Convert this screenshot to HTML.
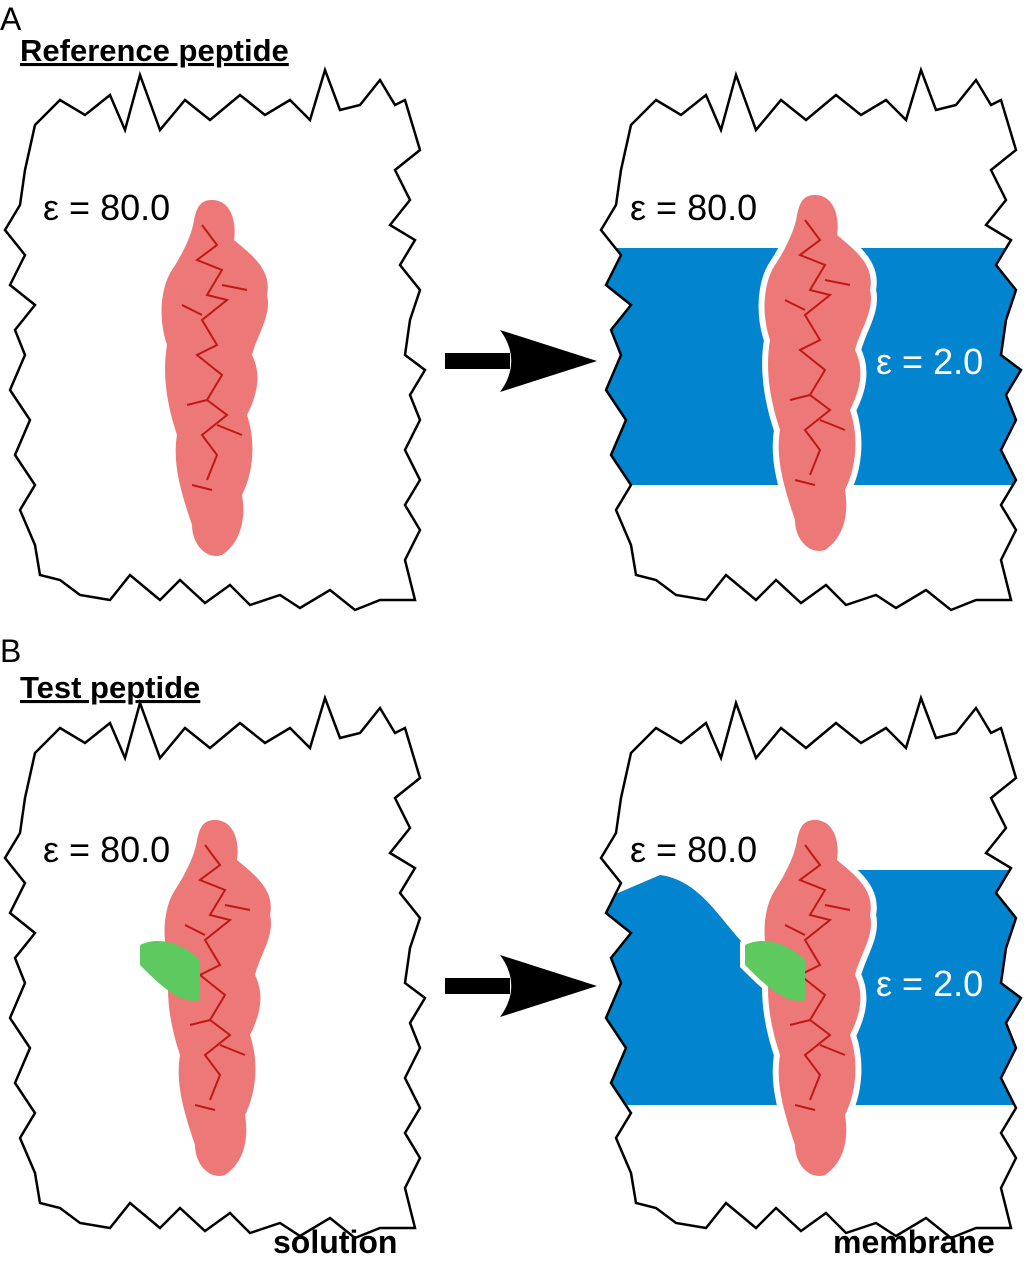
<!DOCTYPE html>
<html><head><meta charset="utf-8"><style>
html,body{margin:0;padding:0;background:#fff;}
svg{display:block;font-family:"Liberation Sans",sans-serif;}
</style></head><body>
<svg width="1031" height="1280" viewBox="0 0 1031 1280">
<defs>
<path id="box" d="M35,125 L60,100 L85,115 L110,95 L125,130 L140,75 L160,130 L185,100 L210,120 L240,95 L265,115 L290,100 L310,120 L325,70 L340,110 L360,105 L380,80 L395,105 L405,100 L420,150 L395,170 L410,200 L390,225 L415,240 L400,265 L420,290 L410,320 L405,355 L425,370 L410,395 L420,420 L405,450 L420,480 L405,505 L420,530 L405,560 L415,600 L380,600 L355,610 L330,590 L300,608 L280,595 L250,605 L230,585 L205,603 L180,580 L160,600 L130,575 L110,600 L80,595 L60,580 L40,575 L35,545 L20,510 L35,485 L15,455 L30,420 L10,390 L25,355 L15,330 L35,305 L10,285 L25,255 L5,230 L20,205 L25,170 Z"/>
<path id="pep" d="M0,-165 C18,-165 25,-145 22,-125 C40,-110 60,-95 55,-70 C60,-50 45,-30 40,-10 C50,10 45,30 35,50 C45,80 40,110 30,130 C35,160 25,180 10,190 C-5,195 -20,180 -20,160 C-30,130 -40,100 -35,70 C-45,40 -50,10 -45,-20 C-55,-50 -50,-80 -40,-95 C-30,-110 -20,-130 -18,-145 C-15,-160 -10,-165 0,-165 Z"/>
<clipPath id="clipR1"><use href="#box" transform="translate(596,0)"/></clipPath>
<clipPath id="clipR2"><use href="#box" transform="translate(596,628)"/></clipPath>
<g id="pepg">
<use href="#pep" fill="#e9605f" fill-opacity="0.85"/>
<path d="M-10,-140 l15,20 l-20,15 l25,10 l-15,25 l20,5 l-25,20 l15,25 l-20,10 l25,20 l-15,25 l20,15 l-25,20 l15,20 l-10,25 M-30,-60 l20,10 M10,-80 l25,5 M-25,40 l20,-5 M5,60 l25,10 M-20,120 l20,5" stroke="#c01818" stroke-width="2" fill="none"/>
</g>
</defs>

<text x="0" y="30" font-size="32">A</text>
<text x="20" y="61" font-size="31" font-weight="bold" text-decoration="underline">Reference peptide</text>

<use href="#box" fill="none" stroke="#000" stroke-width="2.5"/>
<use href="#pepg" transform="translate(212,365)"/>
<text x="43" y="220" font-size="36">ε = 80.0</text>

<g clip-path="url(#clipR1)">
<rect x="590" y="248" width="450" height="237" fill="#0284cf"/>
</g>
<use href="#box" transform="translate(596,0)" fill="none" stroke="#000" stroke-width="2.5"/>
<use href="#pep" transform="translate(815,360)" fill="#fff" stroke="#fff" stroke-width="12"/>
<use href="#pepg" transform="translate(815,360)"/>
<text x="630" y="220" font-size="36">ε = 80.0</text>
<text x="876" y="374" font-size="36" fill="#fff">ε = 2.0</text>

<g>
<rect x="445" y="353" width="65" height="16" fill="#000"/>
<path d="M500,330 L597,361 L500,392 C515,372 515,350 500,330 Z" fill="#000"/>
</g>

<text x="0" y="662" font-size="32">B</text>
<text x="20" y="698" font-size="31" font-weight="bold" text-decoration="underline">Test peptide</text>

<use href="#box" transform="translate(0,628)" fill="none" stroke="#000" stroke-width="2.5"/>
<use href="#pepg" transform="translate(215,985)"/>
<path d="M140,945 C160,935 185,945 200,960 L200,1000 C180,1005 160,985 140,965 Z" fill="#5ec95e"/>
<text x="43" y="862" font-size="36">ε = 80.0</text>

<g clip-path="url(#clipR2)">
<path d="M590,905 L660,875 C700,880 720,920 745,945 L790,1000 L790,1105 L590,1105 Z" fill="#0284cf"/>
<rect x="850" y="870" width="190" height="235" fill="#0284cf"/>
</g>
<use href="#box" transform="translate(596,628)" fill="none" stroke="#000" stroke-width="2.5"/>
<use href="#pep" transform="translate(815,985)" fill="#fff" stroke="#fff" stroke-width="12"/>
<path d="M745,945 C765,935 790,945 805,960 L805,1000 C785,1005 765,985 745,965 Z" fill="#fff" stroke="#fff" stroke-width="10"/>
<use href="#pepg" transform="translate(815,985)"/>
<path d="M745,945 C765,935 790,945 805,960 L805,1000 C785,1005 765,985 745,965 Z" fill="#5ec95e"/>
<text x="630" y="862" font-size="36">ε = 80.0</text>
<text x="876" y="996" font-size="36" fill="#fff">ε = 2.0</text>

<g>
<rect x="445" y="978" width="65" height="16" fill="#000"/>
<path d="M500,955 L597,986 L500,1017 C515,997 515,975 500,955 Z" fill="#000"/>
</g>

<text x="273" y="1253" font-size="32" font-weight="bold">solution</text>
<text x="833" y="1253" font-size="32" font-weight="bold">membrane</text>
</svg>
</body></html>
